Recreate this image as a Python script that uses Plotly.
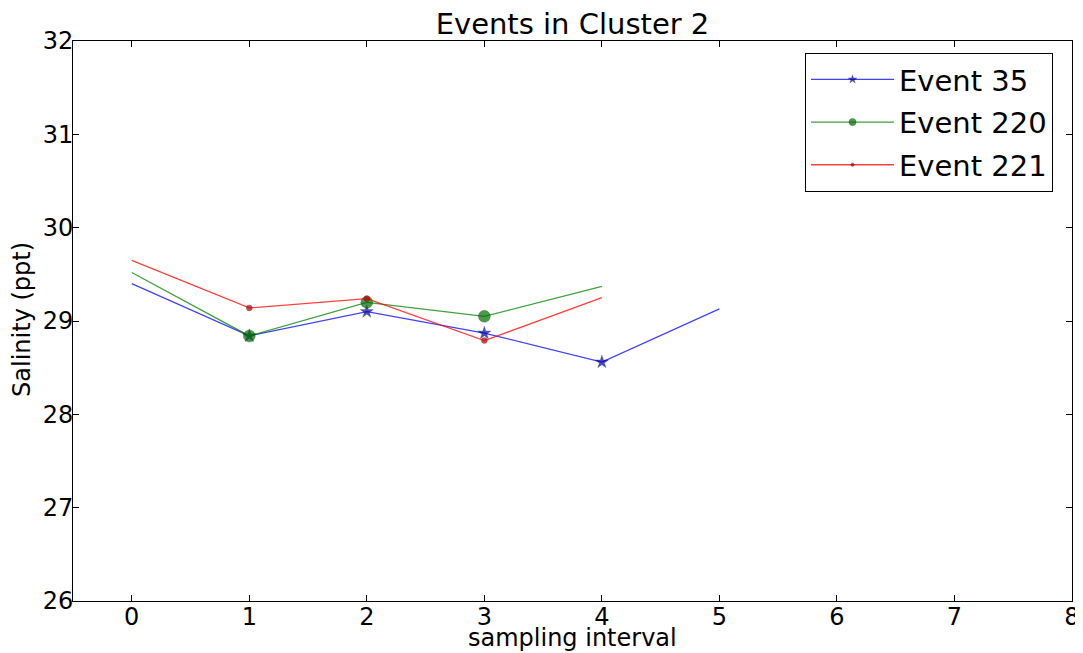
import plotly.graph_objects as go

intervals = [0, 1, 2, 3, 4, 5]
event35 = [29.40, 28.84, 29.10, 28.87, 28.56, 29.13]
event220 = [29.52, 28.84, 29.20, 29.05, 29.37]
event221 = [29.65, 29.14, 29.24, 28.79, 29.25]

series = [
    ("Event 35", event35, "rgba(0,0,255,0.75)", "#0000b0", "star", 10),
    ("Event 220", event220, "rgba(0,128,0,0.75)", "#007000", "circle", 12),
    ("Event 221", event221, "rgba(255,0,0,0.75)", "#c00000", "circle", 6),
]

fig = go.Figure()
for name, vals, lc, mc, sym, ms in series:
    n = len(vals)
    sizes = [0] + [ms] * (n - 2) + [0]
    fig.add_trace(go.Scatter(
        x=intervals[:n], y=vals, name=name, legendgroup=name, mode="lines+markers",
        line=dict(color=lc, width=1.3),
        marker=dict(symbol=sym, size=sizes, color=mc, line=dict(width=0.5, color="rgba(0,0,0,0.6)")),
    ))

axis_common = dict(
    showgrid=False, zeroline=False, showline=True, linecolor="black", linewidth=1,
    mirror="ticks", ticks="inside", ticklen=6, tickcolor="black", automargin=False,
    tickfont=dict(size=24, color="black", family="DejaVu Sans"),
)
fig.update_layout(
    width=1075, height=645,
    paper_bgcolor="white", plot_bgcolor="white",
    margin=dict(l=65, r=11, t=33, b=52),
    title=dict(text="Events in Cluster 2", x=0.5, xref="paper", xanchor="center",
               y=0.976, yanchor="middle",
               font=dict(size=29, color="black", family="DejaVu Sans")),
    font=dict(family="DejaVu Sans", color="black"),
    xaxis=dict(range=[-0.5, 8], dtick=1, tick0=0, ticklabelstandoff=-6, **axis_common),
    yaxis=dict(range=[26, 32], dtick=1, ticklabelstandoff=-6, **axis_common),
    annotations=[
        dict(text="sampling interval", xref="paper", yref="paper", x=0.5, y=-0.066,
             xanchor="center", yanchor="middle", showarrow=False,
             font=dict(size=24, color="black", family="DejaVu Sans")),
        dict(text="Salinity (ppt)", xref="paper", yref="paper", x=-0.051, y=0.502,
             xanchor="center", yanchor="middle", showarrow=False, textangle=-90,
             font=dict(size=24, color="black", family="DejaVu Sans")),
    ],
    legend=dict(x=0.981, y=0.9786, xanchor="right", yanchor="top",
                bordercolor="black", borderwidth=1, bgcolor="white",
                font=dict(size=29, color="black"), itemwidth=83, tracegroupgap=2),
    showlegend=True,
)
fig.write_html("out.html")
